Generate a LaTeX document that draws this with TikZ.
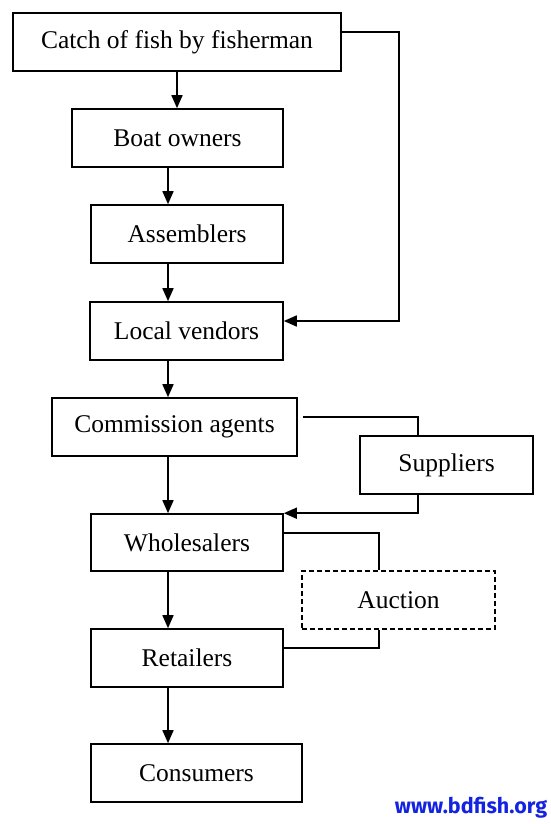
\documentclass[tikz,border=0pt]{standalone}
\usepackage{fontspec}
\setmainfont{Liberation Serif}
\newfontfamily\markfont{Fira Sans}
\usepackage{xcolor}
\usepackage{tikz}
\usetikzlibrary{arrows.meta,positioning,calc}

\definecolor{markblue}{RGB}{20,35,225}

\begin{document}
\begin{tikzpicture}[x=1pt,y=-1pt,
  every node/.style={font=\fontsize{25.5}{28}\selectfont},
  box/.style={draw,line width=1.6pt,minimum height=58pt,inner sep=0pt},
  dbox/.style={box,dash pattern=on 5pt off 3pt},
  link/.style={line width=1.6pt},
  arr/.style={link,-{Triangle[length=13pt,width=11pt]}}]
  \useasboundingbox (0,0) rectangle (550,824);
  \coordinate (col) at (168,0);
  \node[box,minimum width=328pt] (catch) at (177,42) {Catch of fish by fisherman};
  \node[box,minimum width=211pt] (boat) at (177.5,138) {Boat owners};
  \node[box,minimum width=192pt] (assem) at (187,234) {Assemblers};
  \node[box,minimum width=193pt] (vend) at (186.5,331) {Local vendors};
  \node[box,minimum width=245pt] (comm) at (174.5,427) {Commission agents};
  \node[box,minimum width=173pt] (supp) at (446.5,465) {Suppliers};
  \node[box,minimum width=192pt,minimum height=57pt] (whole) at (187,542.5) {Wholesalers};
  \node[dbox,minimum width=193pt] (auct) at (398.5,600) {Auction};
  \node[box,minimum width=192pt] (retail) at (187,658) {Retailers};
  \node[box,minimum width=211pt] (cons) at (196.5,773) {Consumers};
  \node[font=\markfont\bfseries\fontsize{21.5}{23}\selectfont,text=markblue] (mark) at (471,807.5) {www.bdfish.org};
  % main chain
  \draw[arr] (catch.south) -- (catch.south |- boat.north);
  \foreach \a/\b in {boat/assem,assem/vend,vend/comm,comm/whole,whole/retail,retail/cons}
    \draw[arr] (\a.south -| col) -- (\b.north -| col);
  % side routes
  \draw[arr] ([yshift=10pt]catch.east) -- ++(57,0) |- ([yshift=10pt]vend.east);
  \draw[link,shorten <=5pt] ([yshift=10pt]comm.east) -| ([xshift=-28.5pt]supp.north);
  \draw[arr] ([xshift=-28.5pt]supp.south) |- (whole.north east);
  \draw[link] ([yshift=9.5pt]whole.east) -| ([xshift=-19.5pt]auct.north);
  \draw[link] ([xshift=-19.5pt]auct.south) |- ([yshift=10pt]retail.east);
\end{tikzpicture}
\end{document}
